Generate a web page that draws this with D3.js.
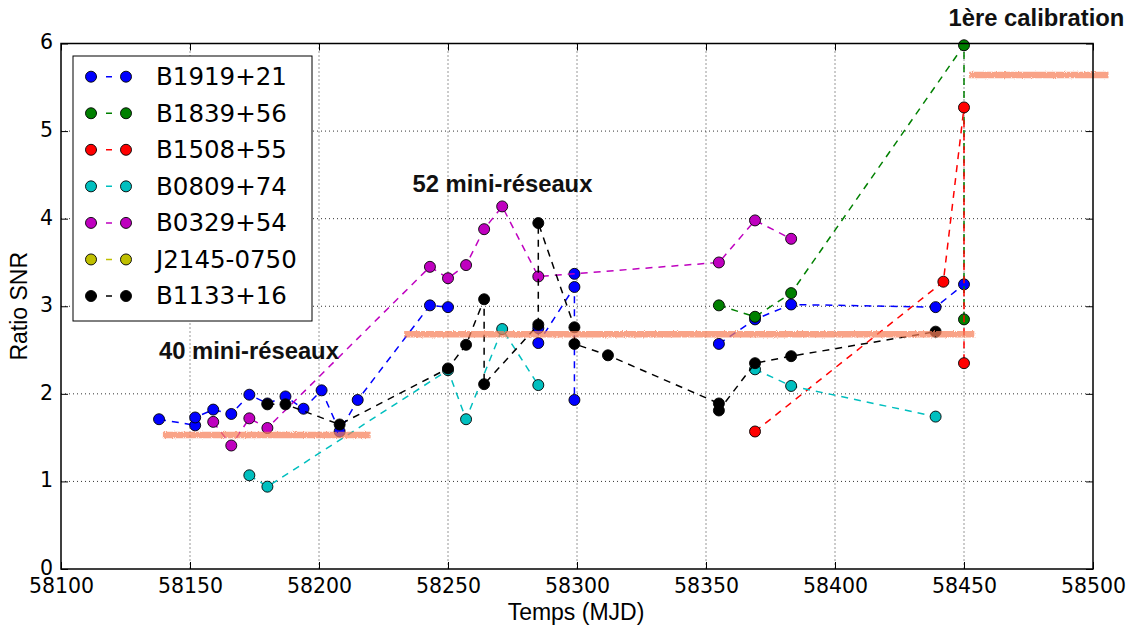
<!DOCTYPE html>
<html><head><meta charset="utf-8">
<script src="https://cdn.jsdelivr.net/npm/d3@7"></script>
<style>body{margin:0;background:#fff;} svg{display:block}</style>
</head><body>
<svg id="c" width="1135" height="630"></svg>
<script>
// ---------- data ----------
const xTicks = [58100, 58150, 58200, 58250, 58300, 58350, 58400, 58450, 58500];
const yTicks = [0, 1, 2, 3, 4, 5, 6];
const seriesNames = ["B1919+21", "B1839+56", "B1508+55", "B0809+74", "B0329+54", "J2145-0750", "B1133+16"];
const seriesColors = ["#0000ff", "#008000", "#ff0000", "#00bfbf", "#bf00bf", "#bfbf00", "#000000"];

// null entries break the dashed line
const b1919Days = [58138, 58152, 58152, 58159, 58166, 58173, 58180, 58187, 58194, 58201, 58208, 58215, 58243, 58250, null, 58285, 58285, 58299, 58299, 58299, null, 58355, 58369, 58383, 58439, 58450];
const b1919Vals = [1.71, 1.64, 1.73, 1.82, 1.77, 1.99, 1.89, 1.97, 1.83, 2.04, 1.57, 1.93, 3.01, 2.99, null, 2.75, 2.58, 3.22, 3.37, 1.93, null, 2.57, 2.85, 3.02, 2.99, 3.25];

const b1839Days = [58355, 58369, 58383, 58450, 58450];
const b1839Vals = [3.01, 2.88, 3.15, 5.98, 2.85];

const b1508Days = [58369, 58442, 58450, 58450];
const b1508Vals = [1.57, 3.28, 5.27, 2.35];

const b0809Days = [58173, 58180, 58250, 58257, 58271, 58285, null, 58369, 58383, 58439];
const b0809Vals = [1.07, 0.94, 2.27, 1.71, 2.74, 2.10, null, 2.28, 2.09, 1.74];

const b0329Days = [58159, 58166, 58173, 58180, 58243, 58250, 58257, 58264, 58271, 58285, 58355, 58369, 58383];
const b0329Vals = [1.68, 1.41, 1.72, 1.61, 3.45, 3.32, 3.47, 3.88, 4.14, 3.34, 3.50, 3.98, 3.77];

const j2145Days = [];
const j2145Vals = [];

const b1133Days = [58180, 58187, 58208, 58250, 58257, 58264, 58264, 58285, 58285, 58299, 58299, 58312, 58355, 58355, 58369, 58383, 58439];
const b1133Vals = [1.88, 1.88, 1.65, 2.29, 2.56, 3.08, 2.11, 2.79, 3.95, 2.76, 2.57, 2.44, 1.89, 1.81, 2.35, 2.43, 2.71];

// reference levels (salmon bands): start day, end day, level
const bandStarts = [58139.5, 58233, 58452];
const bandEnds = [58220, 58454, 58506];
const bandLevels = [1.53, 2.68, 5.64];

const annotTexts = ["40 mini-réseaux", "52 mini-réseaux", "1ère calibration"];

// ---------- chart ----------
const svg = d3.select("#c");
const L = 61, R = 1093, T = 43.5, B = 569;
const x = d3.scaleLinear().domain([58100, 58500]).range([L, R]);
const y = d3.scaleLinear().domain([0, 6]).range([B, T]);

const defs = svg.append("defs");
const filt = defs.append("filter").attr("id", "rough").attr("x", "-5%").attr("y", "-200%").attr("width", "110%").attr("height", "500%");
filt.append("feTurbulence").attr("type", "fractalNoise").attr("baseFrequency", "0.9").attr("numOctaves", 2).attr("seed", 3).attr("result", "n");
filt.append("feDisplacementMap").attr("in", "SourceGraphic").attr("in2", "n").attr("scale", 3);

// grid
const grid = svg.append("g");
xTicks.slice(1, -1).forEach(t => grid.append("line").attr("x1", x(t)).attr("x2", x(t)).attr("y1", T).attr("y2", B)
  .attr("stroke", "#333").attr("stroke-width", 1).attr("stroke-dasharray", "1,3"));
yTicks.slice(1, -1).forEach(t => grid.append("line").attr("x1", L).attr("x2", R).attr("y1", y(t)).attr("y2", y(t))
  .attr("stroke", "#333").attr("stroke-width", 1).attr("stroke-dasharray", "1,3"));

// axes (ticks inward)
const tickFont = "'DejaVu Sans', sans-serif";
const xAxis = svg.append("g").attr("transform", `translate(0,${B})`)
  .call(d3.axisBottom(x).tickValues(xTicks).tickFormat(d3.format("d")).tickSizeInner(-7).tickSizeOuter(0).tickPadding(9));
const xAxisTop = svg.append("g").attr("transform", `translate(0,${T})`)
  .call(d3.axisTop(x).tickValues(xTicks).tickFormat("").tickSizeInner(-7).tickSizeOuter(0));
const yAxis = svg.append("g").attr("transform", `translate(${L},0)`)
  .call(d3.axisLeft(y).tickValues(yTicks).tickFormat(d3.format("d")).tickSizeInner(-7).tickSizeOuter(0).tickPadding(8));
const yAxisR = svg.append("g").attr("transform", `translate(${R},0)`)
  .call(d3.axisRight(y).tickValues(yTicks).tickFormat("").tickSizeInner(-7).tickSizeOuter(0));
[xAxis, xAxisTop, yAxis, yAxisR].forEach(g => {
  g.select(".domain").remove();
  g.selectAll(".tick line").attr("stroke", "#000").attr("stroke-width", 1);
  g.selectAll("text").attr("font-family", tickFont).attr("font-size", 20.5).attr("fill", "#000");
});
xAxis.selectAll("text").attr("dy", "0.71em");
yAxis.selectAll("text").attr("dy", "0.26em");

// series
const series = [
  [b1919Days, b1919Vals], [b1839Days, b1839Vals], [b1508Days, b1508Vals],
  [b0809Days, b0809Vals], [b0329Days, b0329Vals], [j2145Days, j2145Vals], [b1133Days, b1133Vals]
];
const line = d3.line().defined(d => d.v != null).x(d => x(d.d)).y(d => y(d.v));
series.forEach(([days, vals], i) => {
  const pts = days.map((d, k) => ({ d: d, v: vals[k] }));
  const g = svg.append("g");
  g.append("path").attr("d", line(pts)).attr("fill", "none").attr("stroke", seriesColors[i])
    .attr("stroke-width", 1.5).attr("stroke-dasharray", "7,6");
  g.selectAll("circle").data(pts.filter(p => p.v != null)).join("circle")
    .attr("cx", p => x(p.d)).attr("cy", p => y(p.v)).attr("r", 5.5)
    .attr("fill", seriesColors[i]).attr("stroke", "#000").attr("stroke-width", 0.9);
});

// salmon bands on top
const bandG = svg.append("g").attr("filter", "url(#rough)").attr("opacity", 0.72);
bandLevels.forEach((lv, i) => {
  bandG.append("line").attr("x1", x(bandStarts[i])).attr("x2", x(bandEnds[i]))
    .attr("y1", y(lv)).attr("y2", y(lv)).attr("stroke", "#f7805a").attr("stroke-width", 6.5);
});

// frame
svg.append("rect").attr("x", L).attr("y", T).attr("width", R - L).attr("height", B - T)
  .attr("fill", "none").attr("stroke", "#000").attr("stroke-width", 1.5);

// axis labels
const labFont = "'Liberation Sans', Arial, sans-serif";
svg.append("text").attr("x", 576).attr("y", 620).attr("text-anchor", "middle")
  .attr("font-family", labFont).attr("font-size", 23).text("Temps (MJD)");
svg.append("text").attr("transform", `translate(27,${(T + B) / 2}) rotate(-90)`).attr("text-anchor", "middle")
  .attr("font-family", labFont).attr("font-size", 23).text("Ratio SNR");

// annotations
const annX = [159, 412.5, 948.5], annY = [359, 192, 26];
annotTexts.forEach((t, i) => svg.append("text").attr("x", annX[i]).attr("y", annY[i])
  .attr("font-family", labFont).attr("font-weight", "bold").attr("font-size", 23.8).attr("fill", "#111").text(t));

// legend
const leg = svg.append("g");
leg.append("rect").attr("x", 73).attr("y", 56).attr("width", 239).attr("height", 265)
  .attr("fill", "#fff").attr("stroke", "#000").attr("stroke-width", 1);
seriesNames.forEach((n, i) => {
  const cy = 76.7 + i * 36.55;
  leg.append("line").attr("x1", 91).attr("x2", 126).attr("y1", cy).attr("y2", cy)
    .attr("stroke", seriesColors[i]).attr("stroke-width", 1.5).attr("stroke-dasharray", "6,9");
  [91, 126].forEach(cx => leg.append("circle").attr("cx", cx).attr("cy", cy).attr("r", 5.5)
    .attr("fill", seriesColors[i]).attr("stroke", "#000").attr("stroke-width", 0.9));
  leg.append("text").attr("x", 156).attr("y", cy + 8.3).attr("font-family", tickFont)
    .attr("font-size", 24.5).attr("fill", "#000").text(n);
});
</script>
</body></html>
